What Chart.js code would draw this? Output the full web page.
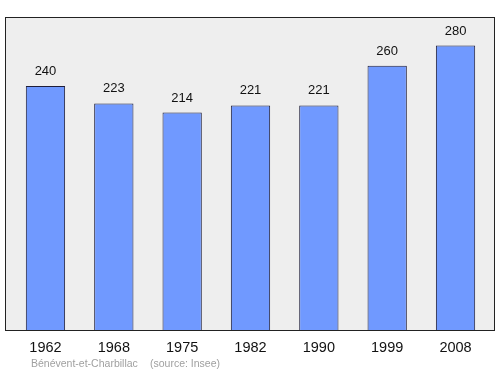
<!DOCTYPE html>
<html>
<head>
<meta charset="utf-8">
<script src="https://cdn.jsdelivr.net/npm/chart.js@4/dist/chart.umd.min.js"></script>
<style>
html,body{margin:0;padding:0;background:#fff;}
#wrap{width:500px;height:374px;position:relative;}
</style>
</head>
<body>
<div id="wrap"><canvas id="c" width="500" height="374"></canvas></div>
<script>
const years = ["1962","1968","1975","1982","1990","1999","2008"];
const population = [240, 223, 214, 221, 221, 260, 280];
const yMax = 308;
const sourceName = "Bénévent-et-Charbillac";
const sourceNote = "(source: Insee)";

const FONT = "'Liberation Sans', Arial, sans-serif";

const framePlugin = {
  id: 'frame',
  beforeDatasetsDraw(chart) {
    const {ctx, chartArea: a} = chart;
    ctx.save();
    ctx.fillStyle = '#eeeeee';
    ctx.strokeStyle = '#222222';
    ctx.lineWidth = 1;
    const x0 = 5.5, x1 = 494.5, y0 = a.top + 0.5, y1 = a.bottom + 0.5;
    ctx.fillRect(x0, y0, x1 - x0, y1 - y0);
    ctx.strokeRect(x0, y0, x1 - x0, y1 - y0);
    ctx.restore();
  },
  afterDatasetsDraw(chart) {
    const {ctx} = chart;
    const meta = chart.getDatasetMeta(0);
    ctx.save();
    ctx.fillStyle = '#111111';
    ctx.font = '13px ' + FONT;
    ctx.textAlign = 'center';
    ctx.textBaseline = 'middle';
    meta.data.forEach((bar, i) => {
      ctx.fillText(String(population[i]), bar.x, bar.y - 14.5);
    });
    ctx.fillStyle = '#a0a0a0';
    ctx.font = '10.5px ' + FONT;
    ctx.textAlign = 'left';
    ctx.fillText(sourceName, 31, 364);
    ctx.fillText(sourceNote, 150, 364);
    ctx.restore();
  }
};

new Chart(document.getElementById('c'), {
  type: 'bar',
  data: {
    labels: years,
    datasets: [{
      data: population,
      backgroundColor: '#7099ff',
      borderColor: '#1e1e3a',
      borderWidth: 1,
      borderSkipped: 'bottom',
      barPercentage: 0.575,
      categoryPercentage: 1.0
    }]
  },
  options: {
    responsive: false,
    animation: false,
    devicePixelRatio: 1,
    layout: { padding: { left: 11.3, right: 10.3, top: 17, bottom: 0 } },
    plugins: { legend: { display: false }, tooltip: { enabled: false }, title: { display: false } },
    scales: {
      x: {
        grid: { display: false, drawTicks: false },
        border: { display: false },
        ticks: { color: '#111111', font: { size: 14.5, family: FONT }, padding: 9.5, maxRotation: 0 },
        afterFit(scale) { scale.height = 44; }
      },
      y: {
        display: false,
        min: 0,
        max: yMax
      }
    }
  },
  plugins: [framePlugin]
});
</script>
</body>
</html>
